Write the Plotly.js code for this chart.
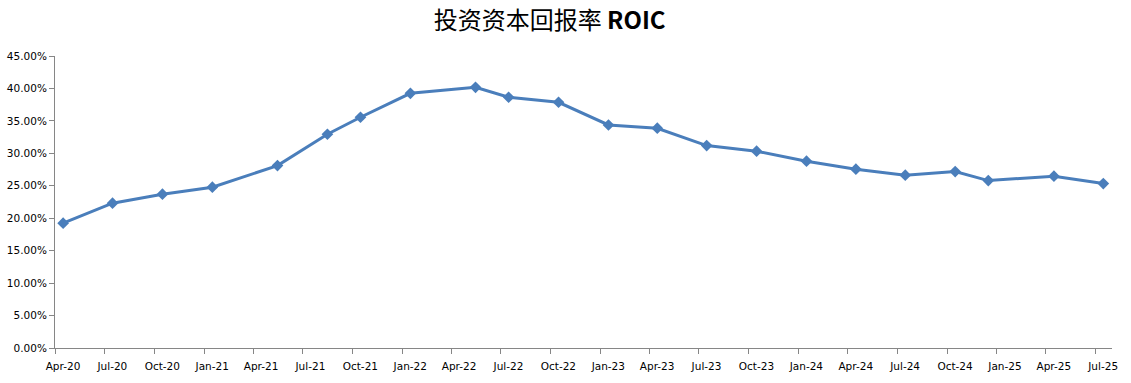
<!DOCTYPE html>
<html>
<head>
<meta charset="utf-8">
<script src="https://cdn.plot.ly/plotly-3.0.1.min.js"></script>
<style>html,body{margin:0;padding:0;background:#fff;}#chart{width:1131px;height:383px;}</style>
</head>
<body>
<div id="chart"></div>
<script>
// Reporting months (points sit in the middle of each month on a date axis)
const months = ['2020-04','2020-07','2020-10','2021-01','2021-05','2021-08','2021-10','2022-01',
  '2022-05','2022-07','2022-10','2023-01','2023-04','2023-07','2023-10','2024-01','2024-04',
  '2024-07','2024-10','2024-12','2025-04','2025-07'];
// ROIC, percent
const roic = [19.24, 22.32, 23.71, 24.78, 28.11, 32.94, 35.56, 39.25, 40.18, 38.64, 37.87,
  34.37, 33.87, 31.19, 30.33, 28.79, 27.56, 26.63, 27.19, 25.80, 26.48, 25.34];
const titleText = '投资资本回报率 <b>ROIC</b>';

const blue = '#4A7EBB';
const axisGray = '#868686';
const font = {family: 'DejaVu Sans, Verdana, sans-serif', size: 10.5, color: '#000'};

const trace = {
  x: months.map(m => m + '-16'),
  y: roic,
  type: 'scatter',
  mode: 'lines+markers',
  line: {color: blue, width: 3},
  marker: {symbol: 'diamond', size: 9, color: blue},
  hoverinfo: 'x+y'
};

const layout = {
  width: 1131, height: 383,
  margin: {l: 55, r: 19, t: 56, b: 35},
  paper_bgcolor: '#fff', plot_bgcolor: '#fff',
  showlegend: false,
  title: {
    text: titleText,
    font: {family: 'Noto Sans CJK SC, sans-serif', size: 24, color: '#000'},
    xref: 'container', x: 0.486, xanchor: 'center',
    yref: 'container', y: 0.945, yanchor: 'middle'
  },
  xaxis: {
    type: 'date',
    range: ['2020-04-01', '2025-08-01'],
    tick0: '2020-04-01', dtick: 'M3',
    tickformat: '%b-%y',
    ticklabelshift: 8,
    ticklabelstandoff: 3,
    ticks: 'outside', ticklen: 5, tickcolor: axisGray, tickwidth: 1,
    showline: true, linecolor: axisGray, linewidth: 1,
    showgrid: false, zeroline: false,
    tickfont: font
  },
  yaxis: {
    range: [0, 45],
    tick0: 0, dtick: 5,
    tickformat: '.2f', ticksuffix: '%',
    ticks: 'outside', ticklen: 5, tickcolor: axisGray, tickwidth: 1,
    showline: true, linecolor: axisGray, linewidth: 1,
    showgrid: false, zeroline: false,
    tickfont: font
  }
};

Plotly.newPlot('chart', [trace], layout, {displayModeBar: false, staticPlot: true});
</script>
</body>
</html>
